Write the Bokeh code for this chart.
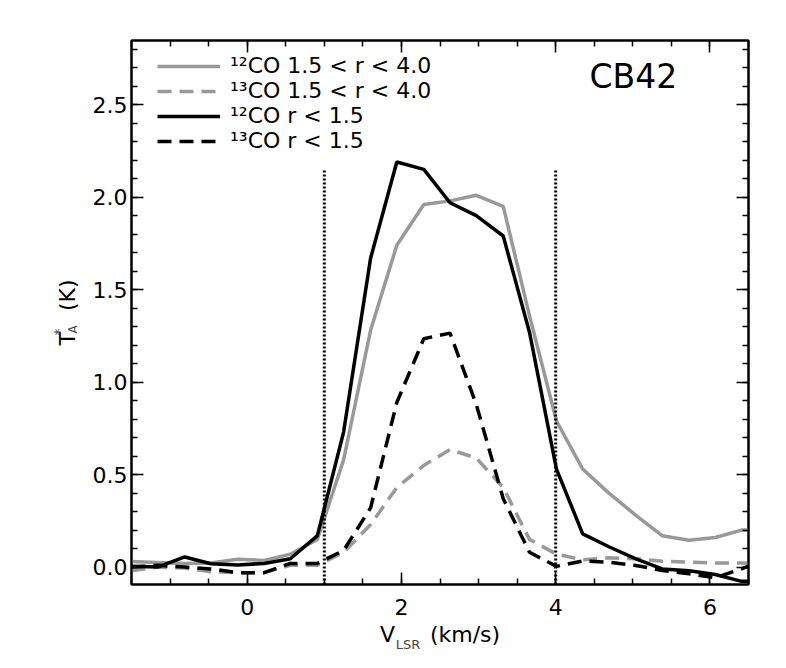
from math import pi
from bokeh.plotting import figure
from bokeh.models import (Range1d, LinearAxis, SingleIntervalTicker, PrintfTickFormatter,
                          CustomJSTickFormatter, Label, Legend, LegendItem)
from bokeh.embed import file_html
from bokeh.resources import INLINE

# ---------------- data ----------------
velocity = [-1.50, -1.16, -0.81, -0.47, -0.12, 0.22, 0.56, 0.91, 1.25, 1.60, 1.94, 2.29,
            2.63, 2.97, 3.32, 3.66, 4.01, 4.35, 4.69, 5.04, 5.38, 5.73, 6.07, 6.41, 6.76]

co12_outer = [0.03, 0.025, 0.02, 0.022, 0.042, 0.036, 0.07, 0.15, 0.58, 1.28, 1.74, 1.96,
              1.98, 2.01, 1.95, 1.36, 0.79, 0.53, 0.40, 0.28, 0.17, 0.145, 0.16, 0.20, 0.20]
co13_outer = [-0.02, 0.0, -0.005, -0.025, -0.03, -0.03, 0.01, 0.01, 0.08, 0.23, 0.43, 0.55,
              0.635, 0.59, 0.43, 0.15, 0.07, 0.04, 0.05, 0.045, 0.032, 0.027, 0.022, 0.022, 0.02]
co12_inner = [0.005, 0.0, 0.055, 0.018, 0.012, 0.02, 0.045, 0.17, 0.73, 1.67, 2.19, 2.15,
              1.97, 1.90, 1.79, 1.27, 0.53, 0.18, 0.11, 0.045, -0.01, -0.02, -0.04, -0.077, -0.075]
co13_inner = [0.0, 0.01, 0.0, -0.01, -0.03, -0.03, 0.02, 0.02, 0.09, 0.32, 0.89, 1.235,
              1.265, 0.88, 0.37, 0.08, 0.004, 0.033, 0.027, 0.009, -0.018, -0.036, -0.057, -0.009, 0.05]

series_labels = ["\u00b9\u00b2CO 1.5 < r < 4.0", "\u00b9\u00b3CO 1.5 < r < 4.0",
                 "\u00b9\u00b2CO r < 1.5", "\u00b9\u00b3CO r < 1.5"]

vline_x = [1.0, 4.0]
vline_top = 2.15

X_MIN, X_MAX = -1.5, 6.5
Y_MIN, Y_MAX = -0.094, 2.847

FONT = "DejaVu Sans"
GRAY = "#999999"
NB = "\u00a0"

# ---------------- figure ----------------
p = figure(width=770, height=660, output_backend="svg", toolbar_location=None,
           x_range=Range1d(X_MIN, X_MAX), y_range=Range1d(Y_MIN, Y_MAX),
           min_border_left=131, min_border_right=22, min_border_top=40, min_border_bottom=76)
p.grid.visible = False
p.outline_line_color = "black"
p.outline_line_width = 2

def style_axis(ax, show_labels):
    ax.axis_line_color = "black"
    ax.axis_line_width = 2
    ax.major_tick_in = 12
    ax.major_tick_out = 0
    ax.minor_tick_in = 6
    ax.minor_tick_out = 0
    ax.major_tick_line_width = 1.5
    ax.minor_tick_line_width = 1.5
    ax.major_tick_line_color = "black"
    ax.minor_tick_line_color = "black"
    if show_labels:
        ax.major_label_text_font = FONT
        ax.major_label_text_font_size = "22px"
        ax.major_label_text_color = "black"
        ax.axis_label_text_font = FONT
        ax.axis_label_text_font_size = "22px"
        ax.axis_label_text_font_style = "normal"
        ax.axis_label_text_color = "black"
    else:
        ax.formatter = CustomJSTickFormatter(code="return ''")
        ax.major_label_standoff = 0

p.xaxis[0].ticker = SingleIntervalTicker(interval=2, num_minor_ticks=4)
p.xaxis[0].formatter = PrintfTickFormatter(format="%d")
p.xaxis[0].major_label_standoff = 14
p.xaxis[0].axis_label = "V" + NB * 5 + "(km/s)"
p.xaxis[0].axis_label_standoff = 4
style_axis(p.xaxis[0], True)

p.yaxis[0].ticker = SingleIntervalTicker(interval=0.5, num_minor_ticks=5)
p.yaxis[0].formatter = PrintfTickFormatter(format="%.1f")
p.yaxis[0].major_label_standoff = 4
p.yaxis[0].axis_label = "T" + NB * 3 + "(K)"
p.yaxis[0].axis_label_standoff = 10
style_axis(p.yaxis[0], True)

top_ax = LinearAxis(ticker=SingleIntervalTicker(interval=2, num_minor_ticks=4))
style_axis(top_ax, False)
p.add_layout(top_ax, "above")
right_ax = LinearAxis(ticker=SingleIntervalTicker(interval=0.5, num_minor_ticks=5))
style_axis(right_ax, False)
p.add_layout(right_ax, "right")

# ---------------- curves ----------------
r1 = p.line(velocity, co12_outer, line_color=GRAY, line_width=3.5)
r2 = p.line(velocity, co13_outer, line_color=GRAY, line_width=3.5, line_dash="14 8")
r3 = p.line(velocity, co12_inner, line_color="black", line_width=3.5)
r4 = p.line(velocity, co13_inner, line_color="black", line_width=3.5, line_dash="14 8")

p.segment(x0=vline_x, y0=[Y_MIN] * len(vline_x), x1=vline_x, y1=[vline_top] * len(vline_x),
          line_color="black", line_width=3, line_dash="2 2")

legend = Legend(items=[LegendItem(label=series_labels[i], renderers=[r]) for i, r in enumerate([r1, r2, r3, r4])],
                location=(26, 431), glyph_width=63, glyph_height=20, label_height=20,
                label_standoff=10, spacing=0, padding=0, margin=0,
                border_line_color=None, background_fill_alpha=0,
                label_text_font=FONT, label_text_font_size="22px", label_text_color="black")
p.add_layout(legend)

# ---------------- texts ----------------
p.add_layout(Label(x=4.439, y=2.650, text="CB42", text_font=FONT, text_font_size="33px",
                   text_color="black", text_baseline="middle"))

# subscript of the x axis title (placed in the top side panel, positioned in data units)
p.add_layout(Label(x=1.925, y=-0.4184, text="LSR", text_font=FONT, text_font_size="13px",
                   text_baseline="middle"), "above")

# sub/superscript of the y axis title
p.add_layout(Label(x=-2.2585, y=1.263, text="A", angle=pi / 2, text_font=FONT,
                   text_font_size="12px", text_baseline="middle"), "left")
p.add_layout(Label(x=-2.4465, y=1.252, text="*", angle=pi / 2, text_font=FONT,
                   text_font_size="14px", text_baseline="middle"), "left")

open("out.html", "w").write(file_html(p, INLINE))
